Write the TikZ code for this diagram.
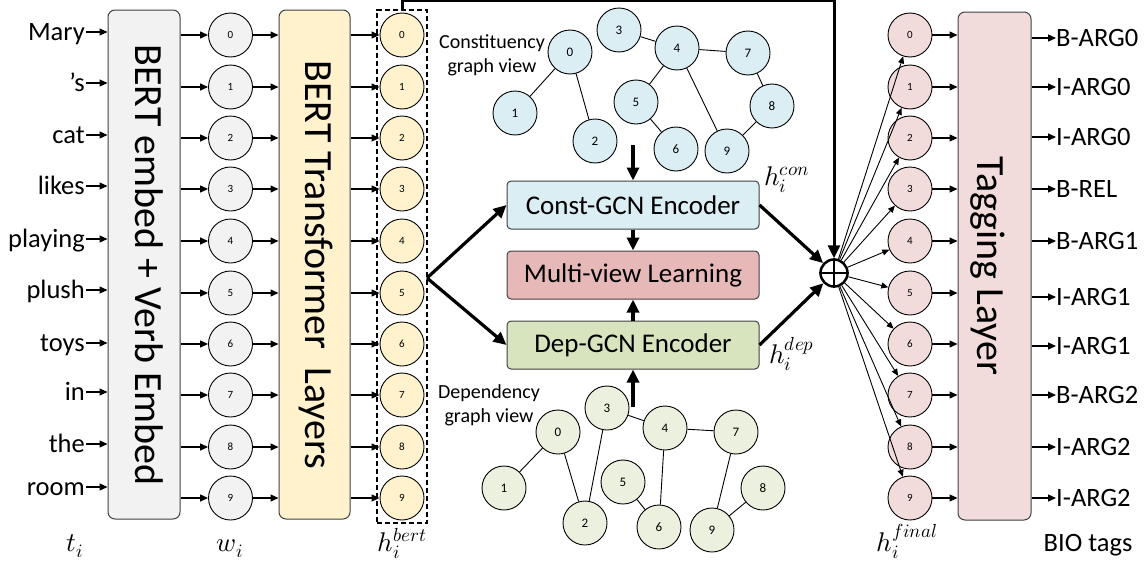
\documentclass[tikz,border=0pt]{standalone}
\usepackage{fontspec}
\usepackage{unicode-math}
\setmainfont{Carlito}
\setmathfont{Latin Modern Math}
\usetikzlibrary{arrows.meta,fit}
\definecolor{cgray}{HTML}{F2F2F2}
\definecolor{cyel}{HTML}{FFF2CC}
\definecolor{cblue}{HTML}{DBEEF4}
\definecolor{cred}{HTML}{E6B9B8}
\definecolor{cgreen}{HTML}{D7E4BD}
\definecolor{cgreenl}{HTML}{EBF1DE}
\definecolor{cpink}{HTML}{F2DCDB}
\definecolor{cbord}{HTML}{404040}
\tikzset{
 arr/.style={-{Triangle[length=8pt,width=7pt]}, line width=1.2pt},
 farr/.style={-{Triangle[length=7pt,width=6pt]}, line width=0.9pt},
 bigarr/.style={-{Triangle[length=13pt,width=12pt]}, line width=3.2pt},
 tok/.style={circle, draw, line width=0.9pt, minimum size=44pt, inner sep=0pt, font=\fontsize{11}{12}\selectfont},
 gnode/.style={circle, draw, line width=0.9pt, minimum size=44pt, inner sep=0pt, font=\fontsize{13}{14}\selectfont},
 tall/.style={draw=cbord, line width=1pt, rounded corners=7pt, minimum width=72pt, minimum height=509pt, inner sep=0pt},
 bigtxt/.style={font=\fontsize{40}{44}\selectfont, inner sep=0pt, anchor=base, rotate=-90},
 enc/.style={draw=cbord, line width=1pt, rounded corners=4pt, minimum width=252pt, minimum height=48pt, inner sep=0pt, font=\fontsize{27}{30}\selectfont},
 word/.style={anchor=base east, font=\fontsize{26.5}{28}\selectfont, inner sep=0pt},
 tag/.style={anchor=west, font=\fontsize{26.5}{28}\selectfont, inner sep=0pt},
 mlabel/.style={font=\fontsize{27}{29}\selectfont, inner sep=0pt},
 glabel/.style={align=center, font=\fontsize{20}{24}\selectfont, inner sep=0pt},
 gedge/.style={line width=0.9pt},
}
\begin{document}
\begin{tikzpicture}[x=1pt,y=-1pt]
\useasboundingbox (0,0) rectangle (1147,570);
% tall boxes
\node[tall, fill=cgray] (emb) at (144,264.5) {};
\node[bigtxt] (embt) at (135,265) {BERT embed + Verb Embed};
\node[tall, fill=cyel, minimum width=71pt] (tr) at (314.5,264.5) {};
\node[bigtxt] (trt) at (305,265) {BERT Transformer\ \ Layers};
\node[tall, fill=cpink, minimum width=73pt, minimum height=508pt] (tg) at (994.5,266) {};
\node[bigtxt] (tgt) at (977,266) {Tagging Layer};
% token circles
\foreach \i/\y in {0/35,1/87,2/138,3/189,4/241,5/293,6/344,7/395,8/447,9/498} {
 \node[tok, fill=cgray] (w\i) at (230.5,\y) {\i};
 \node[tok, fill=cyel] (b\i) at (402,\y) {\i};
 \node[tok, fill=cpink] (f\i) at (910,\y) {\i};
 \draw[arr] (w\i -| emb.east) -- (w\i);
 \draw[arr] (w\i) -- (w\i -| tr.west);
 \draw[arr] (b\i -| tr.east) -- (b\i);
 \draw[arr] (f\i) -- (f\i -| tg.west);
}
% words
\foreach \i/\y/\t in {0/32/Mary,1/83/’s,2/135/cat,3/186/likes,4/239/playing,5/290/plush,6/343/toys,7/392/in,8/444/the,9/487/room} {
 \coordinate (a\i) at (86,\y);
 \node[word] (t\i) at (85,\y+8) {\t};
 \draw[arr] (a\i) -- (a\i -| emb.west);
}
% tags
\foreach \i/\y/\t in {0/38/B-ARG0,1/87/I-ARG0,2/137/I-ARG0,3/189/B-REL,4/241/B-ARG1,5/297/I-ARG1,6/346/I-ARG1,7/395/B-ARG2,8/447/I-ARG2,9/498/I-ARG2} {
 \node[tag] (o\i) at (1056,\y) {\t};
 \draw[arr] (o\i.west -| tg.east) -- (o\i.west);
}
% dashed box
\node[draw, line width=1.5pt, dash pattern=on 5pt off 3pt, fit=(b0)(b9), inner sep=2.5pt] (bb) {};
% plus
\node[circle, draw, line width=2.5pt, minimum size=27pt, inner sep=0pt] (plus) at (834,273) {};
\draw[line width=2.5pt] (plus.north) -- (plus.south) (plus.west) -- (plus.east);
\draw[line width=3pt, -{Triangle[length=13pt,width=12pt]}] (bb.north) -- ++(0,-9) -| (plus.north);
% encoders
\node[enc, fill=cblue] (cgcn) at (633,205) {Const-GCN Encoder};
\node[enc, fill=cred] (mvl) at (633,275) {Multi-view Learning};
\node[enc, fill=cgreen] (dgcn) at (633,345) {Dep-GCN Encoder};
\coordinate (fork) at (427,278);
\draw[bigarr] (fork) -- (cgcn.west);
\draw[bigarr] (fork) -- (dgcn.west);
\draw[bigarr] (cgcn.east) -- (plus);
\draw[bigarr] (dgcn.east) -- (plus);
\draw[bigarr] (cgcn.south) -- (mvl.north);
\draw[bigarr] (dgcn.north) -- (mvl.south);
\coordinate (ctop) at (633,145);
\coordinate (dbot) at (633,407);
\draw[bigarr] (ctop) -- (cgcn.north);
\draw[bigarr] (dbot) -- (dgcn.south);
% plus to finals
\foreach \i in {0,...,9} \draw[farr] (plus) -- (f\i);
% constituency graph
\foreach \i/\x/\y in {0/570/52,1/515/113,2/595/141,3/619/30,4/677/48,5/636/102,6/676/149,7/748/53,8/772/106,9/727/151}
 \node[gnode, fill=cblue] (c\i) at (\x,\y) {\i};
\foreach \a/\b in {0/1,0/2,3/4,4/7,4/5,4/9,5/6,7/8,8/9}
 \draw[gedge] (c\a) -- (c\b);
% dependency graph
\foreach \i/\x/\y in {0/558/432,1/504/488,2/585/523,3/607/408,4/665/428,5/623/482,6/659/527,7/736/432,8/763/488,9/712/530}
 \node[gnode, fill=cgreenl] (d\i) at (\x,\y) {\i};
\foreach \a/\b in {0/1,0/2,2/3,3/4,4/7,4/6,5/6,7/9,8/9}
 \draw[gedge] (d\a) -- (d\b);
\node[glabel] (clab) at (492,55) {Constituency\\graph view};
\node[glabel] (dlab) at (489,405) {Dependency\\graph view};
% math labels
\node[mlabel, anchor=base west] (hcon) at (764,185) {$h_i^{con}$};
\node[mlabel, anchor=base west] (hdep) at (769,363) {$h_i^{dep}$};
\node[mlabel, anchor=base] (lt) at (75,551) {$t_i$};
\node[mlabel, anchor=base] (lw) at (230,551) {$w_i$};
\node[mlabel, anchor=base] (lb) at (402,551) {$h_i^{bert}$};
\node[mlabel, anchor=base] (lf) at (907,551) {$h_i^{final}$};
\node[tag, anchor=base] (lbio) at (1088,551) {BIO tags};
\end{tikzpicture}
\end{document}
